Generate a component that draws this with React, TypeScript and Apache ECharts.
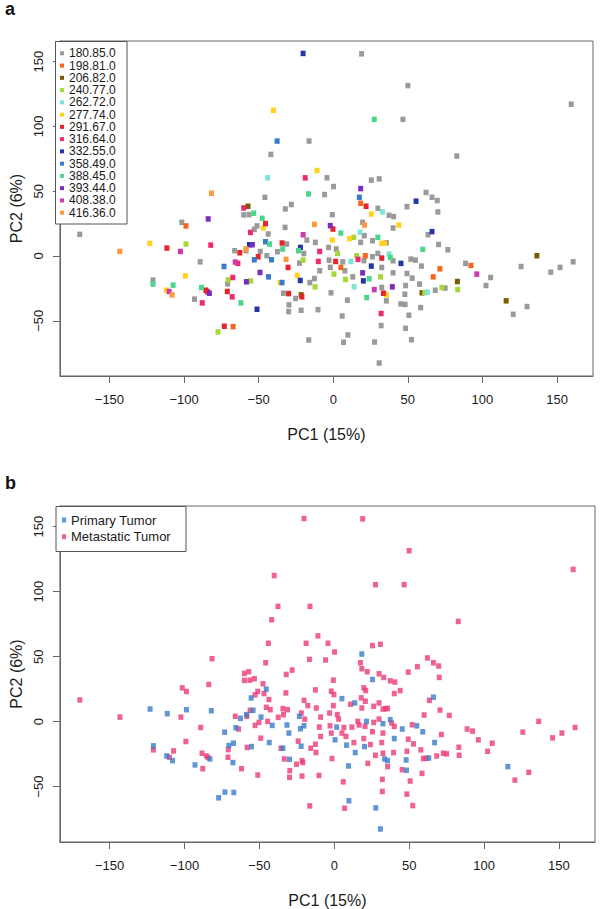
import React, { useEffect, useRef } from 'react';
import * as echarts from 'echarts';

// ---- Panel a: groups (legend labels) ----
const groupNames = [
  '180.85.0', '198.81.0', '206.82.0', '240.77.0', '262.72.0', '277.74.0', '291.67.0',
  '316.64.0', '332.55.0', '358.49.0', '388.45.0', '393.44.0', '408.38.0', '416.36.0',
];
const groupColors = [
  '#9A9A9A', '#F4661F', '#7A5C00', '#A7D83A', '#7FE3DA', '#FFD21F', '#E8242A',
  '#EE2A6E', '#2436A6', '#3A7CCB', '#4ED58C', '#7A2DBB', '#CC3AAE', '#FF9A3C',
];

// [PC1, PC2, primary(1) / metastatic(0)]
const g180 = [
  [-16.2, 88.7, 0], [-41.8, 78.4, 0], [-4.2, 60.3, 0], [-5.8, 47.4, 0], [-45.8, 45.3, 0],
  [-101.5, 26.0, 0], [-169.9, 16.7, 0], [-60.0, 31.7, 0], [-56.4, 31.9, 0], [-51.1, 23.2, 0],
  [-52.9, 20.6, 0], [-43.6, 17.0, 0], [-32.1, 36.3, 0], [-28.1, 39.7, 0], [-32.3, 22.1, 0],
  [-17.7, 12.3, 0], [-12.0, 10.5, 0], [-3.1, 6.6, 0], [-31.2, 9.2, 0], [-37.4, 3.3, 0],
  [-44.5, 0.2, 0], [-48.9, 3.5, 1], [-58.4, 4.1, 0], [-66.1, 4.1, 0], [-89.2, -4.5, 0],
  [-22.6, -5.5, 1], [-19.7, 1.9, 0], [-9.1, -11.4, 0], [-12.6, -17.4, 0], [-15.7, -20.5, 0],
  [-33.4, -28.7, 0], [-25.2, -32.8, 0], [-29.7, -37.7, 0], [-29.9, -42.9, 0], [-21.5, -41.9, 0],
  [-10.2, -41.4, 0], [-70.8, -21.5, 0], [-16.4, -64.8, 0], [-93.0, -33.3, 1], [-120.8, -18.6, 1],
  [19.0, 156.0, 0], [50.0, 131.5, 0], [46.7, 105.4, 0], [159.5, 117.1, 0], [82.8, 77.1, 0],
  [0.2, 53.6, 0], [25.5, 58.5, 0], [30.8, 59.5, 0], [29.9, 36.8, 0], [37.4, 31.4, 0],
  [40.5, 30.4, 0], [40.1, 21.6, 0], [49.4, 38.1, 0], [62.2, 49.0, 0], [66.2, 45.3, 0],
  [69.7, 42.8, 0], [70.1, 34.0, 0], [63.5, 16.4, 0], [70.6, 8.9, 0], [76.8, 4.8, 0],
  [-0.6, 31.9, 0], [19.7, 26.0, 0], [20.8, 15.7, 0], [18.4, 10.5, 0], [26.3, 11.8, 0],
  [35.6, 10.2, 0], [2.0, 5.4, 0], [26.3, -0.6, 0], [29.9, 2.0, 0], [-2.8, -3.2, 0],
  [6.4, -4.5, 0], [20.6, -3.6, 0], [-2.0, -8.8, 0], [7.8, -11.4, 0], [13.1, -16.1, 0],
  [32.5, -8.8, 0], [40.1, -13.0, 1], [40.1, -3.7, 0], [52.0, -2.4, 0], [55.1, -3.2, 1],
  [59.1, -7.8, 1], [49.4, -13.5, 0], [52.9, -17.1, 0], [57.8, -21.7, 0], [48.5, -22.8, 0],
  [48.0, -29.5, 1], [45.3, -37.0, 0], [48.2, -37.4, 1], [50.7, -45.7, 0], [48.5, -55.8, 0],
  [52.4, -64.6, 0], [58.6, -39.8, 0], [68.4, -26.4, 0], [75.0, -24.8, 0], [88.7, -5.7, 0],
  [102.4, -22.8, 0], [105.5, -16.6, 0], [125.9, -8.1, 0], [145.8, -12.5, 0], [152.0, -8.8, 0],
  [160.8, -4.5, 0], [120.6, -45.0, 0], [129.9, -39.0, 0], [-1.5, -28.4, 0], [9.5, -34.1, 1],
  [6.0, -46.3, 0], [9.8, -60.9, 1], [6.9, -66.6, 0], [35.6, -34.6, 0], [32.1, -53.7, 0],
  [27.7, -66.4, 1], [30.8, -82.6, 1], [32.5, -24.3, 0],
];
const g198 = [
  [-98.7, 23.2, 0], [-67.1, -54.5, 1], [18.4, 40.7, 0], [21.5, 0.2, 1], [5.1, -8.8, 0],
  [67.0, -16.1, 1], [71.5, -9.9, 0], [92.3, -7.3, 0],
];
const g206 = [
  [-57.1, 38.4, 0], [-21.5, -30.0, 0], [59.5, -28.4, 0], [83.2, -19.7, 0], [136.5, 0.2, 0],
  [115.9, -34.6, 1],
];
const g240 = [
  [-98.7, 9.2, 1], [-20.2, -3.2, 1], [-12.2, -23.8, 0], [-55.3, -19.2, 1], [-70.4, -18.4, 1],
  [-77.2, -58.6, 1], [13.7, 14.4, 1], [2.9, 2.0, 0], [15.7, 0.2, 0], [0.5, -14.0, 1],
  [8.2, -18.1, 1], [31.7, -16.1, 0], [61.3, -28.2, 0], [72.8, -24.3, 0], [83.4, -25.9, 0],
];
const g262 = [
  [-44.0, 60.3, 0], [33.0, 34.0, 0], [18.0, 18.3, 0], [37.4, 1.5, 1], [11.8, -4.2, 0],
  [14.0, -23.8, 1], [63.1, -28.0, 1],
];
const g277 = [
  [-40.1, 112.4, 0], [-10.9, 66.0, 0], [-46.9, 21.6, 0], [-123.0, 9.7, 1], [-99.1, -15.3, 0],
  [-111.9, -26.4, 1], [-24.1, -15.0, 0], [-35.6, -20.5, 0], [25.5, 32.4, 1], [44.0, 23.9, 0],
  [-0.6, 12.3, 0], [10.9, 13.4, 0], [32.5, 9.7, 0], [34.3, 9.9, 0], [35.6, -30.0, 1],
];
const g291 = [
  [-45.4, 25.0, 1], [-111.5, 6.1, 1], [-34.3, 10.0, 0], [-50.3, -0.6, 0], [-62.6, 2.5, 1],
  [-30.3, -8.8, 1], [-29.9, -29.0, 1], [-21.0, -31.5, 0], [-71.0, -27.4, 0], [-73.0, -54.2, 1],
  [-85.4, -26.4, 0], [-84.3, -27.6, 0], [22.0, 38.4, 0], [-0.2, 20.8, 0], [32.5, -1.6, 1],
  [1.6, -4.2, 1], [33.6, -28.7, 1],
];
const g316 = [
  [-18.8, 60.3, 0], [-60.0, 37.1, 0], [-55.5, 18.2, 1], [-82.1, 8.4, 1], [-9.1, 3.5, 0],
  [-63.9, -5.7, 0], [-10.0, -4.2, 0], [-67.3, -16.6, 1], [-67.7, -31.5, 1], [-87.8, -36.2, 0],
  [16.6, -2.6, 0], [32.1, -44.4, 0],
];
const g332 = [
  [-20.2, 156.3, 0], [-22.0, 6.6, 0], [-56.2, 8.7, 0], [-22.1, -18.9, 1], [-51.1, -41.1, 0],
  [55.5, 42.3, 0], [66.2, 18.8, 1], [25.5, -7.8, 0], [20.2, -19.2, 1], [45.4, -5.7, 1],
];
const g358 = [
  [-37.6, 88.7, 0], [-45.4, 11.0, 0], [-41.4, -2.9, 1], [-52.9, -2.9, 0], [-73.2, -8.1, 1],
  [-43.4, -16.1, 1], [-34.3, -20.5, 1], [17.5, 45.3, 0],
];
const g388 = [
  [-16.6, 47.9, 0], [-53.3, 33.0, 0], [-47.6, 29.1, 0], [-42.7, 9.2, 0], [-33.9, 5.4, 0],
  [-23.3, 4.1, 1], [-61.9, -36.2, 0], [-120.8, -21.7, 0], [-107.3, -22.5, 0], [-88.3, -24.3, 0],
  [27.5, 105.4, 0], [60.0, 5.1, 0], [5.1, 17.7, 1], [29.9, 14.4, 0], [38.3, -1.1, 0],
  [24.1, -17.6, 0], [22.4, -32.1, 0],
];
const g393 = [
  [-83.8, 28.6, 0], [-2.0, 23.4, 0], [-54.2, 8.7, 1], [-49.1, -12.7, 0], [-58.2, -19.9, 0],
  [-83.0, -28.7, 1], [18.4, 52.0, 1], [19.7, -13.0, 0], [39.6, -23.8, 0],
];
const g408 = [
  [-102.4, 3.5, 0], [-20.2, 16.4, 0], [-65.7, -4.7, 1], [-110.0, -27.4, 0], [96.2, -14.0, 0],
  [27.5, -25.9, 0],
];
const g416 = [
  [-81.6, 48.4, 0], [-143.1, 3.5, 0], [-12.6, 24.4, 0], [-58.6, 5.4, 1], [-31.6, -2.6, 1],
  [-108.0, -30.0, 1], [21.0, 23.9, 0],
];
const groups = [g180, g198, g206, g240, g262, g277, g291, g316, g332, g358, g388, g393, g408, g416];

// ---- Panel b ----
const tumorNames = ['Primary Tumor', 'Metastatic Tumor'];
const tumorColors = ['#3A7BC8', '#EC3A78'];

const xTicks = [-150, -100, -50, 0, 50, 100, 150];
const yTicks = [-50, 0, 50, 100, 150];

const FONT = '"Liberation Sans", Arial, Helvetica, sans-serif';
const TXT = '#1a1a1a';
const AX = '#666666';
const fmt = (v: number) => String(v).replace('-', '\u2212');

function xAxisCfg(gridIndex: number, min: number, max: number) {
  return {
    type: 'value', gridIndex, min, max,
    splitLine: { show: false },
    axisLine: { show: true, onZero: false, lineStyle: { color: AX, width: 1 } },
    axisTick: { show: true, length: 7, lineStyle: { color: AX }, customValues: xTicks },
    axisLabel: { customValues: xTicks, formatter: fmt, margin: 17, fontSize: 13, color: TXT, fontFamily: FONT },
    name: 'PC1 (15%)', nameLocation: 'middle', nameGap: 50,
    nameTextStyle: { fontSize: 16, color: TXT, fontFamily: FONT },
  };
}
function yAxisCfg(gridIndex: number, min: number, max: number) {
  return {
    type: 'value', gridIndex, min, max,
    splitLine: { show: false },
    axisLine: { show: true, onZero: false, lineStyle: { color: AX, width: 1 } },
    axisTick: { show: true, length: 7, lineStyle: { color: AX }, customValues: yTicks },
    axisLabel: { customValues: yTicks, formatter: fmt, rotate: 90, margin: 15, fontSize: 13, color: TXT, fontFamily: FONT },
    name: 'PC2 (6%)', nameLocation: 'middle', nameGap: 35, nameRotate: 90,
    nameTextStyle: { fontSize: 16, color: TXT, fontFamily: FONT },
  };
}

export default function App() {
  const ref = useRef<HTMLDivElement>(null);
  useEffect(() => {
    const chart = echarts.init(ref.current as HTMLDivElement, null, { renderer: 'svg' });
    const sym = { symbol: 'rect', symbolSize: [5, 5.5] };
    const seriesA = groups.map((g, i) => ({
      type: 'scatter', name: groupNames[i], xAxisIndex: 0, yAxisIndex: 0,
      data: g.map((p) => [p[0], p[1]]), ...sym, z: 2,
      itemStyle: { color: groupColors[i], opacity: 1 },
    }));
    const all = groups.flat();
    const seriesB = [
      {
        type: 'scatter', name: tumorNames[1], xAxisIndex: 1, yAxisIndex: 1,
        data: all.filter((p) => p[2] === 0).map((p) => [p[0], p[1]]), ...sym, z: 2,
        itemStyle: { color: tumorColors[1] },
      },
      {
        type: 'scatter', name: tumorNames[0], xAxisIndex: 1, yAxisIndex: 1,
        data: all.filter((p) => p[2] === 1).map((p) => [p[0], p[1]]), ...sym, z: 2,
        itemStyle: { color: tumorColors[0] },
      },
    ];
    chart.setOption({
      animation: false,
      backgroundColor: '#ffffff',
      grid: [
        { left: 55, top: 41, width: 538, height: 335, show: true, borderColor: AX, borderWidth: 1, backgroundColor: 'transparent' },
        { left: 56, top: 506, width: 539, height: 339, show: true, borderColor: AX, borderWidth: 1, backgroundColor: 'transparent' },
      ],
      xAxis: [xAxisCfg(0, -183.2, 174.1), xAxisCfg(1, -183.2, 174.1)],
      yAxis: [yAxisCfg(0, -92.6, 165.9), yAxisCfg(1, -92.6, 165.9)],
      legend: [
        {
          data: groupNames, orient: 'vertical', left: 60, top: 47.3, padding: 0,
          itemWidth: 4, itemHeight: 4, itemGap: 0.26, icon: 'rect', selectedMode: false, z: 10,
          textStyle: { fontSize: 12, lineHeight: 12, color: TXT, fontFamily: FONT },
        },
        {
          data: tumorNames, orient: 'vertical', left: 62, top: 513.5, padding: 0,
          itemWidth: 4, itemHeight: 5, itemGap: 3.7, icon: 'rect', selectedMode: false, z: 10,
          textStyle: { fontSize: 13, lineHeight: 13, color: TXT, fontFamily: FONT },
        },
      ],
      graphic: [
        { type: 'rect', z: 5, shape: { x: 55.5, y: 41.5, width: 71.5, height: 182.5 }, style: { fill: '#ffffff', stroke: '#555555', lineWidth: 1 } },
        { type: 'rect', z: 5, shape: { x: 56, y: 506.5, width: 130, height: 45 }, style: { fill: '#ffffff', stroke: '#555555', lineWidth: 1 } },
        { type: 'text', z: 5, x: 5, y: 0, style: { text: 'a', font: `bold 18px ${FONT}`, fill: '#111111' } },
        { type: 'text', z: 5, x: 5, y: 474, style: { text: 'b', font: `bold 18px ${FONT}`, fill: '#111111' } },
      ],
      series: [...seriesA, ...seriesB],
    });
    return () => chart.dispose();
  }, []);
  return (
    <div
      ref={ref}
      style={{ position: 'absolute', left: 0, top: 0, width: 600, height: 909, background: '#ffffff' }}
    />
  );
}
